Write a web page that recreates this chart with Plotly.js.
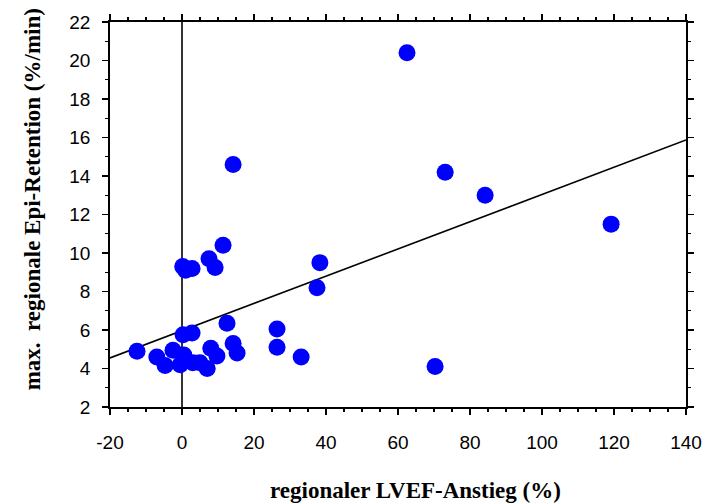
<!DOCTYPE html>
<html>
<head>
<meta charset="utf-8">
<script src="https://cdn.plot.ly/plotly-3.0.1.min.js"></script>
<style>html,body{margin:0;padding:0;background:#fff}#chart{width:706px;height:504px}</style>
</head>
<body>
<div id="chart"></div>
<script>
// LVEF increase (%) for each region
const lvefIncrease = [62.5, 14.2, 73.1, 84.2, 119.2, 11.4, 7.5, 9.2, 0.2, 1.0, 2.8,
  38.3, 37.5, 26.4, 26.4, 33.1, 70.3, -12.5, 12.5, 0.3, 2.8, 14.2, 15.3,
  8.0, 9.7, -7.0, -4.7, -2.5, 0.5, -0.5, 3.0, 7.0, 5.0];
// max. regional Epi retention (%/min)
const epiRetention = [20.4, 14.6, 14.2, 13.0, 11.5, 10.4, 9.7, 9.25, 9.3, 9.1, 9.2,
  9.5, 8.2, 6.05, 5.1, 4.6, 4.1, 4.9, 6.35, 5.75, 5.85, 5.3, 4.8,
  5.05, 4.65, 4.6, 4.15, 4.95, 4.7, 4.2, 4.3, 4.0, 4.3];
// regression line end points
const fitX = [-20, 140];
const fitY = [4.55, 15.87];

const xTicks = [-20, 0, 20, 40, 60, 80, 100, 120, 140];
const yTicks = [2, 4, 6, 8, 10, 12, 14, 16, 18, 20, 22];
const xTitle = 'regionaler LVEF-Anstieg (%)';
const yTitle = 'max.\u00a0\u00a0regionale Epi-Retention (%/min)';

const data = [
  {x: fitX, y: fitY, type: 'scatter', mode: 'lines',
   line: {color: '#000', width: 1.6}, hoverinfo: 'skip'},
  {x: lvefIncrease, y: epiRetention, type: 'scatter', mode: 'markers',
   marker: {color: '#0000ff', size: 17, line: {width: 0}}}
];

const axisCommon = {
  showgrid: false, zeroline: false, showline: true, linecolor: '#000', linewidth: 1.8,
  mirror: 'allticks', ticks: 'outside', ticklen: 6, tickwidth: 1.8, tickcolor: '#000',
  tickfont: {family: 'Liberation Sans, Arial, sans-serif', size: 19, color: '#000'},
  minor: {ticks: 'outside', ticklen: 3.5, tickwidth: 1.4, tickcolor: '#000', showgrid: false}
};
const titleFont = {family: 'Liberation Serif, Times New Roman, serif', size: 23, color: '#000', weight: 'bold'};

const layout = {
  width: 706, height: 504,
  margin: {l: 110, r: 20, t: 22, b: 97},
  paper_bgcolor: '#fff', plot_bgcolor: '#fff',
  showlegend: false,
  xaxis: Object.assign({}, axisCommon, {
    range: [-20, 140], tickvals: xTicks, ticktext: xTicks.map(String),
    minor: Object.assign({}, axisCommon.minor, {dtick: 5, tick0: 0}),
    ticklabelstandoff: 11
  }),
  yaxis: Object.assign({}, axisCommon, {
    range: [2, 22], tickvals: yTicks, ticktext: yTicks.map(String),
    minor: Object.assign({}, axisCommon.minor, {dtick: 1, tick0: 0}),
    ticklabelstandoff: 8
  }),
  shapes: [
    {type: 'line', xref: 'x', yref: 'y', x0: 0, x1: 0, y0: 2, y1: 22,
     line: {color: '#000', width: 1.6}, layer: 'below'}
  ],
  annotations: [
    {text: xTitle, xref: 'paper', yref: 'paper', x: 0.531, y: -0.218,
     xanchor: 'center', yanchor: 'middle', showarrow: false, font: titleFont},
    {text: yTitle, xref: 'paper', yref: 'paper', x: -0.135, y: 0.54,
     xanchor: 'center', yanchor: 'middle', textangle: -90, showarrow: false, font: titleFont}
  ]
};

Plotly.newPlot('chart', data, layout, {displayModeBar: false, staticPlot: true});
</script>
</body>
</html>
